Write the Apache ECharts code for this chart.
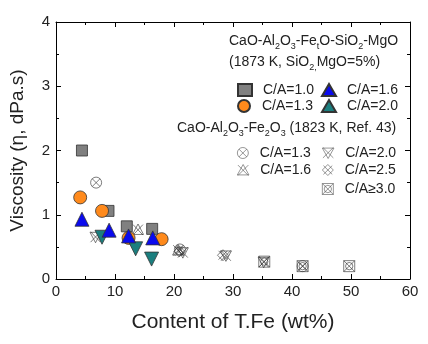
<!DOCTYPE html>
<html><head><meta charset="utf-8">
<script src="https://cdn.jsdelivr.net/npm/echarts@6/dist/echarts.min.js"></script>
<style>html,body{margin:0;padding:0;background:#fff}#c{width:428px;height:344px}</style>
</head><body><div id="c"></div>
<script>
// ---- data ----
const xTicks = [0, 10, 20, 30, 40, 50, 60];
const yTicks = [0, 1, 2, 3, 4];
// CaO-Al2O3-FetO-SiO2-MgO (1873 K)
const ca10 = [[4.4, 2.0], [8.9, 1.06], [12.0, 0.82], [16.3, 0.78]];
const ca13 = [[4.1, 1.27], [7.8, 1.06], [12.3, 0.64], [17.9, 0.62]];
const ca16 = [[4.4, 0.93], [9.0, 0.76], [12.3, 0.67], [16.4, 0.64]];
const ca20 = [[7.8, 0.65], [13.5, 0.47], [16.2, 0.31]];
// CaO-Al2O3-Fe2O3 (1823 K, Ref. 43)
const r13 = [[6.8, 1.5], [21.0, 0.46], [41.8, 0.20]];
const r16 = [[13.9, 0.77], [20.7, 0.45]];
const r20 = [[6.7, 0.65], [21.5, 0.41], [28.8, 0.36], [35.2, 0.26]];
const r25 = [[20.9, 0.43], [28.3, 0.37]];
const r30 = [[35.3, 0.27], [41.8, 0.20], [49.7, 0.20]];

const FONT = '"Liberation Sans", Arial, sans-serif';
const sym = {
  circX: 'path://M0,10 A10,10 0 1,1 20,10 A10,10 0 1,1 0,10 Z M3,3 L17,17 M17,3 L3,17',
  triUX: 'path://M10,0 L20,18 L0,18 Z M1,1 L19,19 M19,1 L1,19',
  triDX: 'path://M0,2 L20,2 L10,20 Z M1,1 L19,19 M19,1 L1,19',
  diaX: 'path://M10,0 L20,10 L10,20 L0,10 Z M2,2 L18,18 M18,2 L2,18 M0,0 L0,0',
  sqCX: 'path://M1,1 L19,1 L19,19 L1,19 Z M4,10 A6,6 0 1,1 16,10 A6,6 0 1,1 4,10 Z M1,1 L19,19 M19,1 L1,19'
};
function hollow(name, data, symbol) {
  return { name: name + '|r', type: 'scatter', data, symbol, symbolSize: 11,
    itemStyle: { color: 'rgba(255,255,255,0)', borderColor: '#333', borderWidth: 0.8 }, z: 2 };
}
function solid(name, data, symbol, color, size) {
  return { name: name, type: 'scatter', data, symbol, symbolSize: size,
    itemStyle: { color, borderColor: '#333', borderWidth: 0.8, opacity: 1 }, z: 3 };
}
const series = [
  hollow('C/A=1.3', r13, sym.circX),
  hollow('C/A=1.6', r16, sym.triUX),
  hollow('C/A=2.0', r20, sym.triDX),
  hollow('C/A=2.5', r25, sym.diaX),
  hollow('C/A\u22653.0', r30, sym.sqCX),
  solid('C/A=1.0', ca10, 'rect', '#808080', 11),
  solid('C/A=1.3', ca13, 'circle', '#FF8A1C', 13),
  solid('C/A=2.0', ca20, 'triangle', '#1B7F7F', 14),
  solid('C/A=1.6', ca16, 'triangle', '#0A0AEE', 14)
];
series[7].symbolRotate = 180;

function leg(name, cx, cy, hollowIcon) {
  const l = { data: [name], left: cx - 7, top: cy - 8, itemWidth: 14, itemHeight: 12,
    formatter: n => n.split('|')[0], selectedMode: false,
    textStyle: { fontFamily: FONT, fontSize: 14, color: '#222', padding: [0, 0, 0, 6] } };
  if (hollowIcon) { l.itemStyle = { borderWidth: 0.7, borderColor: '#444' }; l.itemWidth = 12; l.itemHeight = 11; l.left = cx - 6; }
  return l;
}
const legends = [
  leg('C/A=1.0', 239, 86), leg('C/A=1.6', 323, 86),
  leg('C/A=1.3', 239, 102), leg('C/A=2.0', 323, 102),
  leg('C/A=1.3|r', 238, 149, true), leg('C/A=2.0|r', 323, 149, true),
  leg('C/A=1.6|r', 238, 166, true), leg('C/A=2.5|r', 323, 166, true),
  leg('C/A\u22653.0|r', 323, 185, true)
];
const rich = {
  n: { fontFamily: FONT, fontSize: 14, fontWeight: 'normal', color: '#222', lineHeight: 20 },
  s: { fontFamily: FONT, fontSize: 9, fontWeight: 'normal', color: '#222', lineHeight: 20, verticalAlign: 'bottom' }
};
const line = () => ({ show: true, onZero: false, lineStyle: { color: '#000', width: 1, opacity: 1 } });
const tick = () => ({ show: true, inside: true, length: 5, lineStyle: { color: '#000', width: 1 } });
const minor = () => ({ show: true, splitNumber: 2, length: 3, lineStyle: { color: '#000', width: 1 } });
const chart = echarts.init(document.getElementById('c'));
chart.setOption({
  animation: false,
  title: [
    { text: '{n|CaO-Al}{s|2}{n|O}{s|3}{n|-Fe}{s|t}{n|O-SiO}{s|2}{n|-MgO}', left: 229, top: 31, padding: 0, textStyle: { rich, fontWeight: 'normal' } },
    { text: '{n|(1873 K, SiO}{s|2,}{n|MgO=5%)}', left: 229, top: 52, padding: 0, textStyle: { rich, fontWeight: 'normal' } },
    { text: '{n|CaO-Al}{s|2}{n|O}{s|3}{n|-Fe}{s|2}{n|O}{s|3}{n| (1823 K, Ref. 43)}', left: 177, top: 118, padding: 0, textStyle: { rich, fontWeight: 'normal' } }
  ],
  legend: legends,
  grid: { left: 56, right: 18, top: 22, bottom: 65 },
  xAxis: [
    { type: 'value', position: 'bottom', min: xTicks[0], max: xTicks[xTicks.length - 1], interval: 10,
      name: 'Content of T.Fe (wt%)', nameLocation: 'middle', nameGap: 33,
      nameTextStyle: { fontFamily: FONT, fontSize: 21, color: '#222' },
      axisLine: line(), axisTick: tick(), minorTick: minor(), splitLine: { show: false },
      axisLabel: { fontFamily: FONT, fontSize: 15, color: '#222', margin: 5 } },
    { type: 'value', position: 'top', min: xTicks[0], max: xTicks[xTicks.length - 1], interval: 10,
      axisLine: line(), axisTick: tick(), minorTick: minor(),
      splitLine: { show: false }, axisLabel: { show: false } }
  ],
  yAxis: [
    { type: 'value', position: 'left', min: yTicks[0], max: yTicks[yTicks.length - 1], interval: 1,
      name: 'Viscosity (\u03B7, dPa.s)', nameLocation: 'middle', nameGap: 29,
      nameTextStyle: { fontFamily: FONT, fontSize: 19, color: '#222' },
      axisLine: line(), axisTick: tick(), minorTick: minor(), splitLine: { show: false },
      axisLabel: { fontFamily: FONT, fontSize: 15, color: '#222', margin: 6 } },
    { type: 'value', position: 'right', min: yTicks[0], max: yTicks[yTicks.length - 1], interval: 1,
      axisLine: line(), axisTick: tick(), minorTick: minor(),
      splitLine: { show: false }, axisLabel: { show: false } }
  ],
  series
});
</script></body></html>
